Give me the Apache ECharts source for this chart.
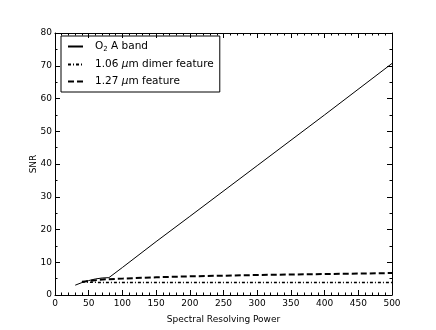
<!DOCTYPE html>
<html><head><meta charset="utf-8">
<script src="https://cdn.jsdelivr.net/npm/echarts@6/dist/echarts.min.js"></script>
<style>html,body{margin:0;padding:0;background:#fff}#c{width:436px;height:330px}</style>
</head><body><div id="c"></div>
<script>
const seriesNames = ['O2 A band', '1.06 um dimer feature', '1.27 um feature'];
const o2R = [30, 40, 50, 60, 70, 80, 100, 150, 200, 300, 400, 500];
const o2SNR = [3.0, 3.8, 4.4, 4.9, 5.2, 5.3, 8.4, 16.3, 24.0, 39.5, 55.0, 70.7];
const dimerR = [40, 50, 75, 100, 200, 300, 400, 500];
const dimerSNR = [4.1, 3.9, 3.8, 3.8, 3.8, 3.8, 3.8, 3.8];
const featR = [40, 50, 75, 100, 150, 200, 250, 300, 400, 500];
const featSNR = [4.0, 4.3, 4.8, 5.0, 5.4, 5.7, 5.9, 6.1, 6.4, 6.7];
const xTicks = [0, 50, 100, 150, 200, 250, 300, 350, 400, 450, 500];
const yTicks = [0, 10, 20, 30, 40, 50, 60, 70, 80];

const zip = (a, b) => a.map((v, i) => [v, b[i]]);
const font = 'DejaVu Sans';
const chart = echarts.init(document.getElementById('c'));
const baseAxis = (min, max, interval, split, margin) => ({
  min, max, interval,
  axisLine: {show: true, onZero: false, lineStyle: {color: '#000', width: 1}},
  axisTick: {show: true, inside: true, length: 5, lineStyle: {color: '#000'}},
  minorTick: {show: true, splitNumber: split, length: 2.5, lineStyle: {color: '#000'}},
  splitLine: {show: false},
  axisLabel: {color: '#000', fontFamily: font, fontSize: 9, margin: margin}
});
chart.setOption({
  animation: false,
  backgroundColor: '#fff',
  grid: {left: 55, right: 44, top: 33, bottom: 35, containLabel: false},
  legend: {
    left: 61, top: 36, orient: 'vertical',
    borderColor: '#000', borderWidth: 1, borderRadius: 0,
    padding: [5, 6, 5, 6], itemGap: 6, itemWidth: 15, itemHeight: 10,
    itemStyle: {opacity: 0},
    textStyle: {fontFamily: font, fontSize: 10.5, color: '#000', padding: [0, 0, 0, 7], rich: {
      sub: {fontSize: 7, verticalAlign: 'bottom', padding: [6, 0, 0, 0], fontFamily: font},
      mu: {fontStyle: 'italic', fontFamily: font, fontSize: 10.5}
    }},
    formatter: n => {
      if (n === seriesNames[0]) return 'O{sub|2} A band';
      if (n === seriesNames[1]) return '1.06 {mu|μ}m dimer feature';
      return '1.27 {mu|μ}m feature';
    },
    data: seriesNames
  },
  xAxis: [
    Object.assign(baseAxis(0, 500, 50, 5, 4), {type: 'value', position: 'bottom',
      name: 'Spectral Resolving Power', nameLocation: 'middle', nameGap: 20, nameMoveOverlap: false,
      nameTextStyle: {color: '#000', fontFamily: font, fontSize: 9}}),
    Object.assign(baseAxis(0, 500, 50, 5, 4), {type: 'value', position: 'top',
      axisLabel: {show: false}})
  ],
  yAxis: [
    Object.assign(baseAxis(0, 80, 10, 2, 3), {type: 'value', position: 'left',
      name: 'SNR', nameLocation: 'middle', nameGap: 17, nameMoveOverlap: false,
      nameTextStyle: {color: '#000', fontFamily: font, fontSize: 9}}),
    Object.assign(baseAxis(0, 80, 10, 2, 3), {type: 'value', position: 'right',
      axisLabel: {show: false}})
  ],
  series: [
    {name: seriesNames[0], type: 'line', data: zip(o2R, o2SNR), symbol: 'none',
      lineStyle: {color: '#000', width: 1, type: 'solid'}, itemStyle: {color: '#000'}},
    {name: seriesNames[1], type: 'line', data: zip(dimerR, dimerSNR), symbol: 'none',
      lineStyle: {color: '#000', width: 1.5, type: [3, 2, 1, 2]}, itemStyle: {color: '#000'}},
    {name: seriesNames[2], type: 'line', data: zip(featR, featSNR), symbol: 'none',
      lineStyle: {color: '#000', width: 2, type: [6, 3]}, itemStyle: {color: '#000'}}
  ]
});
</script></body></html>
